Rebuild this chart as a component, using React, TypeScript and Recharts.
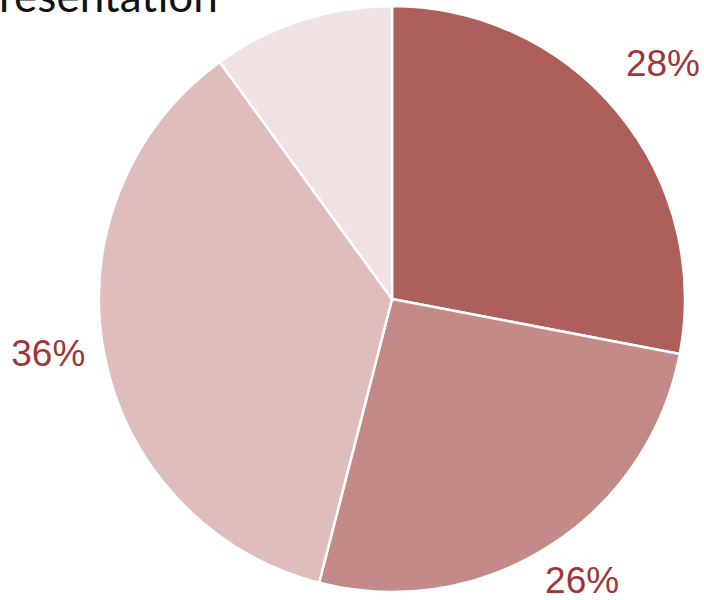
import React from 'react';
import { PieChart, Pie, Cell } from 'recharts';

const segments = ['A', 'B', 'C', 'D'];
const shares = [28, 26, 36, 10];
const labels = ['28%', '26%', '36%', ''];

const COLORS = ['#ad5f5b', '#c48a88', '#dfbdbd', '#f0e2e3'];
// where each percentage sits around the pie (degrees, math convention) and its gap from the rim
const LABEL_ANGLES = [41, -56, 189, 0];
const LABEL_GAPS = [66, 47, 55, 0];

const data = segments.map((name, i) => ({ name, value: shares[i], label: labels[i] }));

const RAD = Math.PI / 180;

function renderLabel(props: any) {
  const { cx, cy, outerRadius, index } = props;
  const text = labels[index];
  if (!text) return null;
  const r = outerRadius + LABEL_GAPS[index];
  const a = LABEL_ANGLES[index] * RAD;
  const x = cx + r * Math.cos(a);
  const y = cy - r * Math.sin(a);
  return (
    <text
      x={x}
      y={y}
      fill="#a0363b"
      fontSize={37}
      fontFamily="'Liberation Sans', Arial, sans-serif"
      textAnchor="middle"
      dominantBaseline="central"
    >
      {text}
    </text>
  );
}

export default function App() {
  return (
    <div style={{ position: 'absolute', left: 0, top: 0, width: 704, height: 600, background: '#fff', overflow: 'hidden' }}>
      <svg width={704} height={600} style={{ position: 'absolute', left: 0, top: 0 }}>
        <text x={-1} y={12} fontSize={44} fontFamily="Lato, 'Open Sans', sans-serif" fill="#111">
          resentation
        </text>
      </svg>
      <div style={{ position: 'absolute', left: 0, top: 0 }}>
        <PieChart width={704} height={600} margin={{ top: 0, right: 0, bottom: 0, left: 0 }}>
          <Pie
            data={data}
            dataKey="value"
            nameKey="name"
            cx={392}
            cy={299}
            outerRadius={293}
            startAngle={90}
            endAngle={-270}
            stroke="#ffffff"
            strokeWidth={2.5}
            label={renderLabel}
            labelLine={false}
            isAnimationActive={false}
          >
            {data.map((d, i) => (
              <Cell key={d.name} fill={COLORS[i]} />
            ))}
          </Pie>
        </PieChart>
      </div>
    </div>
  );
}
